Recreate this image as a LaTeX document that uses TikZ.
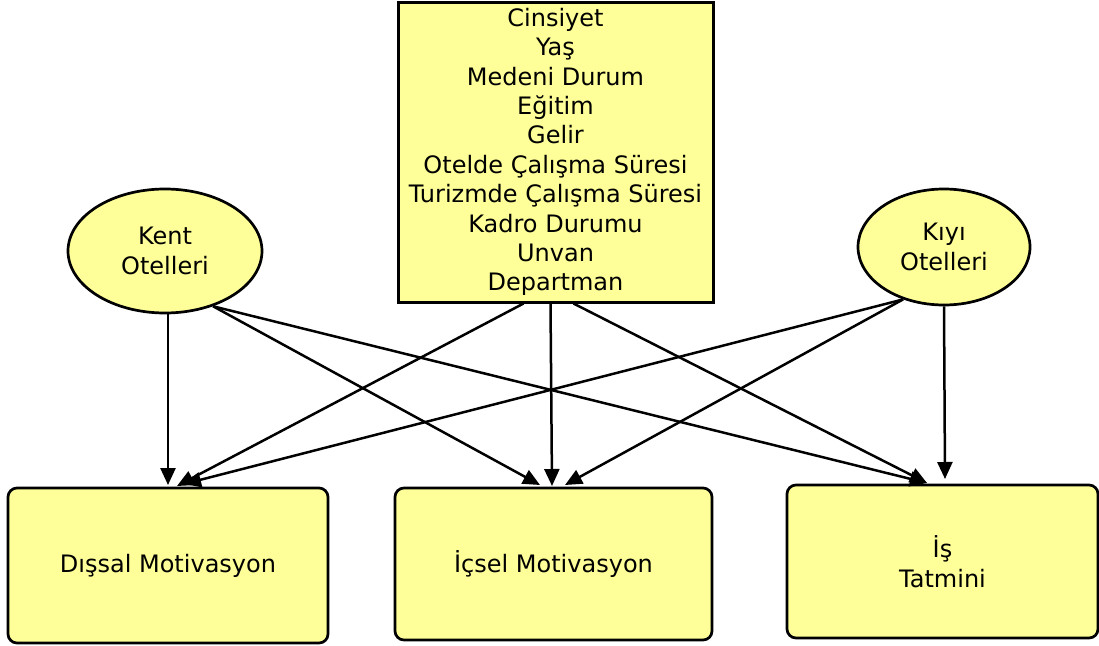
\documentclass[tikz,border=0pt]{standalone}
\usepackage{fontspec}
\setmainfont{DejaVu Sans}
\usetikzlibrary{shapes.geometric,arrows.meta}
\definecolor{boxfill}{RGB}{255,255,153}
\tikzset{
  lbl/.style={font=\fontsize{24}{29.4}\selectfont, align=center, inner sep=0pt},
  varbox/.style={draw=black, line width=3pt, fill=boxfill, rectangle, lbl},
  hotel/.style={draw=black, line width=2.7pt, fill=boxfill, ellipse, lbl},
  outcome/.style={draw=black, line width=2.7pt, fill=boxfill, rectangle, rounded corners=9pt, lbl},
  link/.style={line width=2.5pt, -{Triangle[length=17pt,width=15pt]}}
}
\begin{document}
\begin{tikzpicture}[x=1pt,y=-1pt]
\useasboundingbox (0,0) rectangle (1099,645);

% demographic variables
\node[varbox, minimum width=315pt, minimum height=300pt] (vars) at (555.5,152)
  {Cinsiyet\\Yaş\\Medeni Durum\\Eğitim\\Gelir\\Otelde Çalışma Süresi\\Turizmde Çalışma Süresi\\Kadro Durumu\\Unvan\\Departman};

% hotel types
\node[hotel, minimum width=194pt, minimum height=124pt] (kent) at (165,251) {Kent\\Otelleri};
\node[hotel, minimum width=172pt, minimum height=116pt] (kiyi) at (944,247) {Kıyı\\Otelleri};

% outcome variables
\node[outcome, minimum width=320pt, minimum height=155pt] (dis) at (168,565.5) {Dışsal Motivasyon};
\node[outcome, minimum width=317pt, minimum height=152pt] (ic) at (553.5,564) {İçsel Motivasyon};
\node[outcome, minimum width=311pt, minimum height=153pt] (is) at (942.5,561.5) {İş\\Tatmini};

% arrow tips on the outcome boxes
\coordinate (d1) at (168,485);
\coordinate (d2) at (177,486);
\coordinate (d3) at (184,484);
\coordinate (c1) at (540,485);
\coordinate (c2) at (552,486);
\coordinate (c3) at (565,485);
\coordinate (s1) at (927,483);
\coordinate (s2) at (945,479);

% from Kent Otelleri
\draw[link] ([xshift=3pt]kent.south) -- (d1);
\draw[link] (kent.-49) -- (c1);
\draw[link] (kent.-49) -- (s1);

% from the demographic variables
\draw[link] ([xshift=-32pt]vars.south) -- (d2);
\draw[link] ([xshift=-5pt]vars.south) -- (c2);
\draw[link] ([xshift=18pt]vars.south) -- (s1);

% from Kıyı Otelleri
\draw[link] (kiyi.-128) -- (d3);
\draw[link] (kiyi.-128) -- (c3);
\draw[link] (kiyi.south) -- (s2);
\end{tikzpicture}
\end{document}
